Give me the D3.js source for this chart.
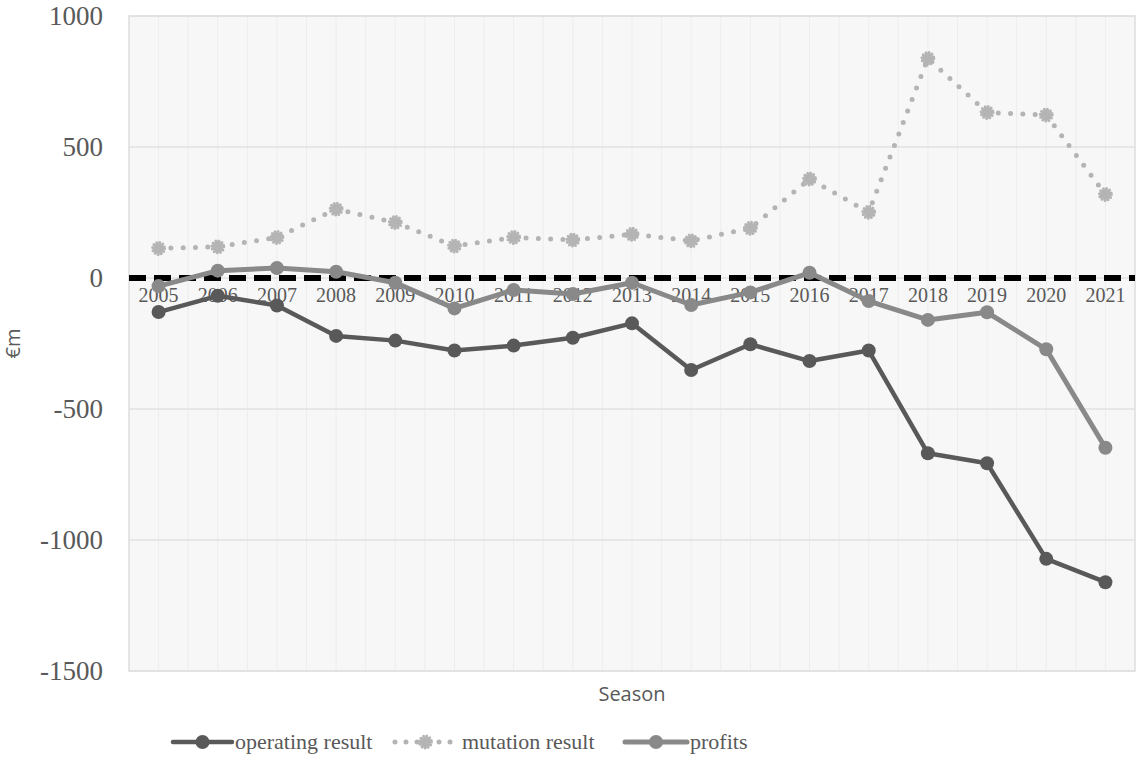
<!DOCTYPE html>
<html>
<head>
<meta charset="utf-8">
<script src="https://cdn.jsdelivr.net/npm/d3@7"></script>
<style>
  body { margin: 0; background: #fff; }
  svg { display: block; }
</style>
</head>
<body>
<div id="chart"></div>
<script>
// seasons and results in €m
const seasons = ["2005", "2006", "2007", "2008", "2009", "2010", "2011", "2012", "2013",
                 "2014", "2015", "2016", "2017", "2018", "2019", "2020", "2021"];
const operatingResult = [-130, -68, -105, -221, -239, -277, -258, -228, -173,
                         -351, -253, -317, -277, -669, -707, -1072, -1161];
const mutationResult = [113, 119, 155, 263, 212, 122, 155, 145, 167,
                        142, 190, 378, 251, 838, 632, 622, 319];
const profits = [-31, 28, 38, 24, -18, -116, -46, -61, -18,
                 -103, -55, 20, -88, -160, -131, -272, -648];
const yTicks = [1000, 500, 0, -500, -1000, -1500];
const seriesNames = ["operating result", "mutation result", "profits"];

const width = 1136, height = 782;
const plot = { left: 129, right: 1135, top: 16, bottom: 671 };

const svg = d3.select("#chart").append("svg")
    .attr("width", width)
    .attr("height", height);

const x = d3.scaleBand().domain(seasons).range([plot.left, plot.right]).padding(0);
const y = d3.scaleLinear().domain([-1500, 1000]).range([plot.bottom, plot.top]);
const cx = d => x(d) + x.bandwidth() / 2;

// plot background
svg.append("rect")
    .attr("x", plot.left).attr("y", plot.top)
    .attr("width", plot.right - plot.left).attr("height", plot.bottom - plot.top)
    .attr("fill", "#f7f7f7");

// vertical grid: band edges and centres
const vLines = [];
seasons.forEach(s => { vLines.push(x(s)); vLines.push(cx(s)); });
vLines.push(plot.right);
svg.append("g").selectAll("line").data(vLines).join("line")
    .attr("x1", d => d).attr("x2", d => d)
    .attr("y1", plot.top).attr("y2", plot.bottom)
    .attr("stroke", "#ededed").attr("stroke-width", 1);

// horizontal grid
svg.append("g").selectAll("line").data(yTicks).join("line")
    .attr("x1", plot.left).attr("x2", plot.right)
    .attr("y1", d => y(d)).attr("y2", d => y(d))
    .attr("stroke", "#e2e2e2").attr("stroke-width", 1.5);

// plot border
svg.append("rect")
    .attr("x", plot.left).attr("y", plot.top)
    .attr("width", plot.right - plot.left).attr("height", plot.bottom - plot.top)
    .attr("fill", "none").attr("stroke", "#e0e0e0").attr("stroke-width", 1.5);

// y axis labels (plain hyphen for negatives)
const yAxis = d3.axisLeft(y).tickValues(yTicks).tickSize(0).tickPadding(26).tickFormat(d => String(d));
const gy = svg.append("g").attr("transform", `translate(${plot.left},0)`).call(yAxis);
gy.select(".domain").remove();
gy.selectAll("text")
    .attr("font-family", "'Liberation Serif', 'Times New Roman', serif")
    .attr("font-size", 27).attr("fill", "#595959");

// x axis labels sit just under the zero line
const xAxis = d3.axisBottom(x).tickSize(0).tickPadding(10);
const gx = svg.append("g").attr("transform", `translate(0,${y(0)})`).call(xAxis);
gx.select(".domain").remove();
gx.selectAll("text")
    .attr("font-family", "'Liberation Serif', 'Times New Roman', serif")
    .attr("font-size", 20).attr("fill", "#595959");

// zero line
svg.append("line")
    .attr("x1", plot.left).attr("x2", plot.right)
    .attr("y1", y(0)).attr("y2", y(0))
    .attr("stroke", "#000").attr("stroke-width", 6)
    .attr("stroke-dasharray", "17 8");

// axis titles
svg.append("text")
    .attr("x", (plot.left + plot.right) / 2).attr("y", 701)
    .attr("text-anchor", "middle")
    .attr("font-family", "'Open Sans', sans-serif").attr("font-size", 20)
    .attr("fill", "#595959").text("Season");
svg.append("text")
    .attr("transform", `translate(20,${(plot.top + plot.bottom) / 2}) rotate(-90)`)
    .attr("text-anchor", "middle")
    .attr("font-family", "'Open Sans', sans-serif").attr("font-size", 20)
    .attr("fill", "#595959").text("€m");

const line = d3.line().x((d, i) => cx(seasons[i])).y(d => y(d));

const colors = ["#595959", "#b4b4b4", "#898989"];

// operating result
svg.append("path").datum(operatingResult)
    .attr("d", line).attr("fill", "none")
    .attr("stroke", colors[0]).attr("stroke-width", 4.5).attr("stroke-linejoin", "round");
svg.append("g").selectAll("circle").data(operatingResult).join("circle")
    .attr("cx", (d, i) => cx(seasons[i])).attr("cy", d => y(d))
    .attr("r", 7).attr("fill", colors[0]);

// mutation result (round dots)
svg.append("path").datum(mutationResult)
    .attr("d", line).attr("fill", "none")
    .attr("stroke", colors[1]).attr("stroke-width", 5)
    .attr("stroke-linecap", "round").attr("stroke-dasharray", "0 12.3");
function dottedMarker(sel) {
    sel.append("circle").attr("r", 5.5).attr("fill", colors[1]);
    sel.append("circle").attr("r", 6)
        .attr("fill", "none").attr("stroke", colors[1]).attr("stroke-width", 3)
        .attr("stroke-linecap", "round").attr("stroke-dasharray", "0 3.2");
}
svg.append("g").selectAll("g").data(mutationResult).join("g")
    .attr("transform", (d, i) => `translate(${cx(seasons[i])},${y(d)})`)
    .call(dottedMarker);

// profits
svg.append("path").datum(profits)
    .attr("d", line).attr("fill", "none")
    .attr("stroke", colors[2]).attr("stroke-width", 5).attr("stroke-linejoin", "round");
svg.append("g").selectAll("circle").data(profits).join("circle")
    .attr("cx", (d, i) => cx(seasons[i])).attr("cy", d => y(d))
    .attr("r", 7).attr("fill", colors[2]);

// legend
const legendY = 742;
const legendItems = [
    { x: 173, textX: 235 },
    { x: 392, textX: 462 },
    { x: 625, textX: 690 }
];
legendItems.forEach((it, i) => {
    const g = svg.append("g");
    const ln = g.append("line")
        .attr("x1", it.x).attr("x2", it.textX - 3)
        .attr("y1", legendY).attr("y2", legendY)
        .attr("stroke", colors[i]);
    const mx = (it.x + it.textX - 3) / 2;
    if (i === 1) {
        ln.attr("stroke-width", 5).attr("stroke-linecap", "round").attr("stroke-dasharray", "0 11")
          .attr("x1", it.x + 3);
        g.append("g").attr("transform", `translate(${mx},${legendY})`).call(dottedMarker);
    } else {
        ln.attr("stroke-width", i === 0 ? 4.5 : 5).attr("stroke-linecap", "round");
        g.append("circle").attr("cx", mx).attr("cy", legendY).attr("r", 7).attr("fill", colors[i]);
    }
    g.append("text")
        .attr("x", it.textX).attr("y", legendY + 7)
        .attr("font-family", "'Liberation Serif', 'Times New Roman', serif")
        .attr("font-size", 22).attr("fill", "#595959")
        .text(seriesNames[i]);
});
</script>
</body>
</html>
